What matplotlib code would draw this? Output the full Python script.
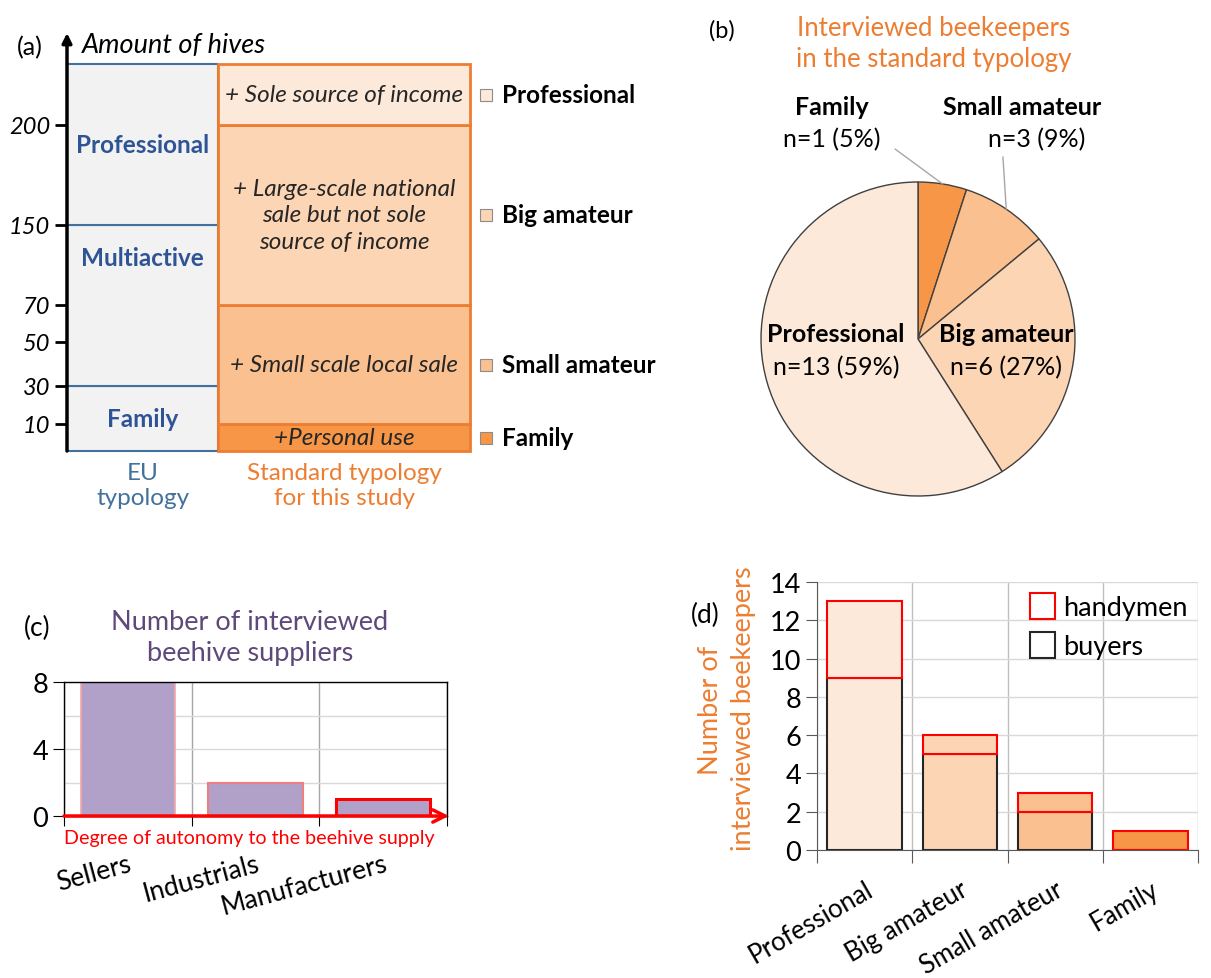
import matplotlib
matplotlib.use('Agg')
import matplotlib.pyplot as plt
import numpy as np
from matplotlib.patches import Patch
from matplotlib.ticker import NullLocator

plt.rcParams['font.family'] = ['Lato', 'DejaVu Sans']

W, H = 1211, 979

# standard typology used in (a), (b) and (d)
typology = ['Professional', 'Big amateur', 'Small amateur', 'Family']
typology_colors = ['#fde9d9', '#fcd5b4', '#fac090', '#f79646']

# (a) typologies by amount of hives (bottom to top)
eu_classes = ['Family', 'Multiactive', 'Professional']
eu_bounds = [0, 30, 150, 260]
std_classes = ['Family', 'Small amateur', 'Big amateur', 'Professional']
std_descr = ['+Personal use', '+ Small scale local sale',
             '+ Large-scale national\nsale but not sole\nsource of income',
             '+ Sole source of income']
std_bounds = [0, 10, 70, 200, 260]
hive_ticks = [10, 30, 50, 70, 150, 200]

# (b) interviewed beekeepers
pie_labels = ['Family', 'Small amateur', 'Big amateur', 'Professional']
pie_n = [1, 3, 6, 13]
pie_pct = [5, 9, 27, 59]

# (c) beehive suppliers
suppliers = ['Sellers', 'Industrials', 'Manufacturers']
suppliers_n = [8, 2, 1]

# (d) buyers / handymen by typology
buyers = [9, 5, 2, 0]
handymen = [4, 1, 1, 1]


def px_rect(x0, y0, x1, y1):
    return [x0 / W, 1 - y1 / H, (x1 - x0) / W, (y1 - y0) / H]


def fig_txt(x, y, s, **kw):
    kw.setdefault('ha', 'center')
    kw.setdefault('va', 'center')
    return fig.text(x / W, 1 - y / H, s, **kw)


fig = plt.figure(figsize=(W / 100, H / 100), dpi=100, facecolor='white')

# ---------------- (a) ----------------
knots_h = [0, 10, 30, 50, 70, 150, 200, 260]
knots_p = [0, 27, 65, 109, 146, 226, 326, 387]
fwd = lambda v: np.interp(v, knots_h, knots_p)
inv = lambda p: np.interp(p, knots_p, knots_h)
mid = lambda a, b: float(inv((fwd(a) + fwd(b)) / 2))

axa = fig.add_axes(px_rect(67, 65, 470, 452))
axa.set_yscale('function', functions=(fwd, inv))
axa.set_ylim(0, 260)
axa.set_xlim(0, 403)
for s in axa.spines.values():
    s.set_visible(False)
axa.set_xticks([])

eu_w, std_w = 151, 252
eu_pos = [0.5, 0.8, 0.5]
for i, name in enumerate(eu_classes):
    b0, b1 = eu_bounds[i], eu_bounds[i + 1]
    axa.bar(0, b1 - b0, bottom=b0, width=eu_w, align='edge', facecolor='#f2f2f2',
            edgecolor='#41719c', lw=1.5, clip_on=False)
    yt = float(inv(fwd(b0) + eu_pos[i] * (fwd(b1) - fwd(b0))))
    axa.text(eu_w / 2, yt, name, ha='center', va='center', fontsize=17.5,
             fontweight='bold', color='#2f5496')

std_cols = typology_colors[::-1]
for i, name in enumerate(std_classes):
    b0, b1 = std_bounds[i], std_bounds[i + 1]
    axa.bar(eu_w, b1 - b0, bottom=b0, width=std_w, align='edge', facecolor=std_cols[i],
            edgecolor='#ed7d31', lw=2, clip_on=False)
    ym = mid(b0, b1)
    axa.text(eu_w + std_w / 2, ym, std_descr[i], ha='center', va='center', fontsize=17.5,
             fontstyle='italic', color='#262626', linespacing=1.3)
    axa.plot(419, ym, marker='s', ms=9, mfc=std_cols[i], mec='#8c8c8c', mew=0.8,
             clip_on=False)
    axa.text(435, ym, name, ha='left', va='center', fontsize=17.5, fontweight='bold',
             color='black')

axa.set_yticks(hive_ticks)
axa.set_yticklabels([str(v) for v in hive_ticks], fontstyle='italic', fontsize=17)
axa.yaxis.set_minor_locator(NullLocator())
axa.tick_params(axis='y', direction='out', length=9, width=2, pad=3)
axa.annotate('', xy=(0, 1.08), xytext=(0, 0), xycoords='axes fraction',
             arrowprops=dict(arrowstyle='-|>', lw=2.5, color='black', mutation_scale=14,
                             shrinkA=0, shrinkB=0), zorder=5)

fig_txt(30, 48, '(a)', fontsize=18)
fig_txt(82, 46, 'Amount of hives', ha='left', fontsize=19.5, fontstyle='italic')
fig_txt(143, 486, 'EU\ntypology', fontsize=17.5, color='#41719c', linespacing=1.25)
fig_txt(344, 486, 'Standard typology\nfor this study', fontsize=17.5, color='#ed7d31',
        linespacing=1.25)

# ---------------- (b) ----------------
axb = fig.add_axes(px_rect(761, 183, 1075, 497))
pie_cols = typology_colors[::-1]
axb.pie(pie_pct, colors=pie_cols, startangle=90, counterclock=False,
        wedgeprops=dict(edgecolor='#404040', linewidth=1))
axb.set_xlim(-1, 1)
axb.set_ylim(-1, 1)
axb.set_aspect('equal')

lab_pos = {'Family': (-0.548, 1.478, -0.548, 1.274),
           'Small amateur': (0.662, 1.478, 0.758, 1.274),
           'Big amateur': (0.561, 0.032, 0.561, -0.178),
           'Professional': (-0.522, 0.032, -0.522, -0.178)}
for name, n, p in zip(pie_labels, pie_n, pie_pct):
    x1, y1, x2, y2 = lab_pos[name]
    axb.text(x1, y1, name, ha='center', va='center', fontsize=18, fontweight='bold')
    axb.text(x2, y2, f'n={n} ({p}%)', ha='center', va='center', fontsize=18)

# leader lines to the two small slices
cum = np.cumsum([0] + pie_pct)
angles = 90 - 3.6 * (cum[:-1] + cum[1:]) / 2
leader_from = {'Family': (-0.146, 1.21), 'Small amateur': (0.541, 1.16)}
for name, ang in zip(pie_labels, angles):
    if name in leader_from:
        a = np.deg2rad(ang)
        axb.annotate('', xy=(np.cos(a), np.sin(a)), xytext=leader_from[name],
                     arrowprops=dict(arrowstyle='-', color='#a6a6a6', lw=1,
                                     shrinkA=0, shrinkB=0), annotation_clip=False)

fig_txt(722, 31, '(b)', fontsize=17)
fig_txt(934, 44, 'Interviewed beekeepers\nin the standard typology', fontsize=18.5,
        color='#ed7d31', linespacing=1.3)

# ---------------- (c) ----------------
axc = fig.add_axes(px_rect(64, 683, 447, 817))
xc = np.arange(len(suppliers))
axc.bar(xc, suppliers_n, width=0.74, color='#b1a0c7',
        edgecolor=['#f4a6a6', '#ef7f7f', '#ff0000'], linewidth=[1.2, 1.5, 2.2], zorder=2)
axc.set_xlim(-0.5, 2.5)
axc.set_ylim(0, 8)
axc.set_yticks([0, 4, 8])
axc.set_yticks([2, 6], minor=True)
axc.tick_params(axis='y', which='major', labelsize=19.5, length=8, direction='out')
axc.tick_params(axis='y', which='minor', length=0)
axc.set_xticks(np.arange(-0.5, 3, 1))
axc.set_xticklabels([])
axc.set_xticks(xc, minor=True)
axc.set_xticklabels(suppliers, minor=True, rotation=15, ha='right', rotation_mode='anchor',
                    fontsize=19)
axc.tick_params(axis='x', which='major', length=7, direction='out')
axc.tick_params(axis='x', which='minor', length=0, pad=25)
axc.grid(axis='y', which='both', color='#d9d9d9', lw=1, zorder=0)
axc.grid(axis='x', which='major', color='#a6a6a6', lw=1, zorder=0)
axc.set_axisbelow(True)
for s in axc.spines.values():
    s.set_color('black')
    s.set_linewidth(1)
axc.annotate('', xy=(1.005, 0), xytext=(0, 0), xycoords='axes fraction',
             arrowprops=dict(arrowstyle='->', lw=2.5, color='red', mutation_scale=22,
                             shrinkA=0, shrinkB=0), annotation_clip=False, zorder=5)

red_txt = axc.text((249 - 64) / 383, (817 - 839) / 134, 'Degree of autonomy to the beehive supply',
                   transform=axc.transAxes, ha='center', va='center', color='red',
                   fontsize=16)
fig.canvas.draw()
bw = red_txt.get_window_extent().width
red_txt.set_fontsize(16 * min(1.0, 372 / bw))

fig_txt(37, 628, '(c)', fontsize=19)
fig_txt(250, 638, 'Number of interviewed\nbeehive suppliers', fontsize=19.5, color='#5f497a',
        linespacing=1.35)

# ---------------- (d) ----------------
axd = fig.add_axes(px_rect(817, 583, 1198, 851))
xd = np.arange(len(typology))
axd.bar(xd, buyers, width=0.78, color=typology_colors, edgecolor='#262626', lw=1.5, zorder=2)
axd.bar(xd, handymen, bottom=buyers, width=0.78, color=typology_colors, edgecolor='red',
        lw=1.5, zorder=3)
axd.set_xlim(-0.5, 3.5)
axd.set_ylim(0, 14)
axd.set_yticks(range(0, 15, 2))
axd.tick_params(axis='y', labelsize=19.5, length=8, direction='out', color='#595959')
axd.set_xticks(np.arange(-0.5, 4, 1))
axd.set_xticklabels([])
axd.set_xticks(xd, minor=True)
axd.set_xticklabels(typology, minor=True, rotation=30, ha='right', rotation_mode='anchor',
                    fontsize=18.5)
axd.tick_params(axis='x', which='major', length=9, direction='out', color='#595959')
axd.tick_params(axis='x', which='minor', length=0, pad=19)
axd.grid(axis='y', color='#d9d9d9', lw=1, zorder=0)
axd.grid(axis='x', which='major', color='#bfbfbf', lw=1, zorder=0)
axd.set_axisbelow(True)
for side in ['top', 'right']:
    axd.spines[side].set_visible(False)
for side in ['left', 'bottom']:
    axd.spines[side].set_color('#595959')
# y label in two separate lines, as in the original
fig_txt(711, 710, 'Number of', rotation=90, fontsize=19.5, color='#ed7d31')
fig_txt(743, 709, 'interviewed beekeepers', rotation=90, fontsize=19.5, color='#ed7d31')
handles = [Patch(facecolor='white', edgecolor='red', lw=1.5, label='handymen'),
           Patch(facecolor='white', edgecolor='#262626', lw=1.5, label='buyers')]
axd.legend(handles=handles, loc='upper right', frameon=False, fontsize=19.5, handlelength=0.9,
           handleheight=1.1, handletextpad=0.3, borderaxespad=0.0, labelspacing=0.45)

fig_txt(705, 615, '(d)', fontsize=19)

fig.savefig('out.png', dpi=100, facecolor='white')
